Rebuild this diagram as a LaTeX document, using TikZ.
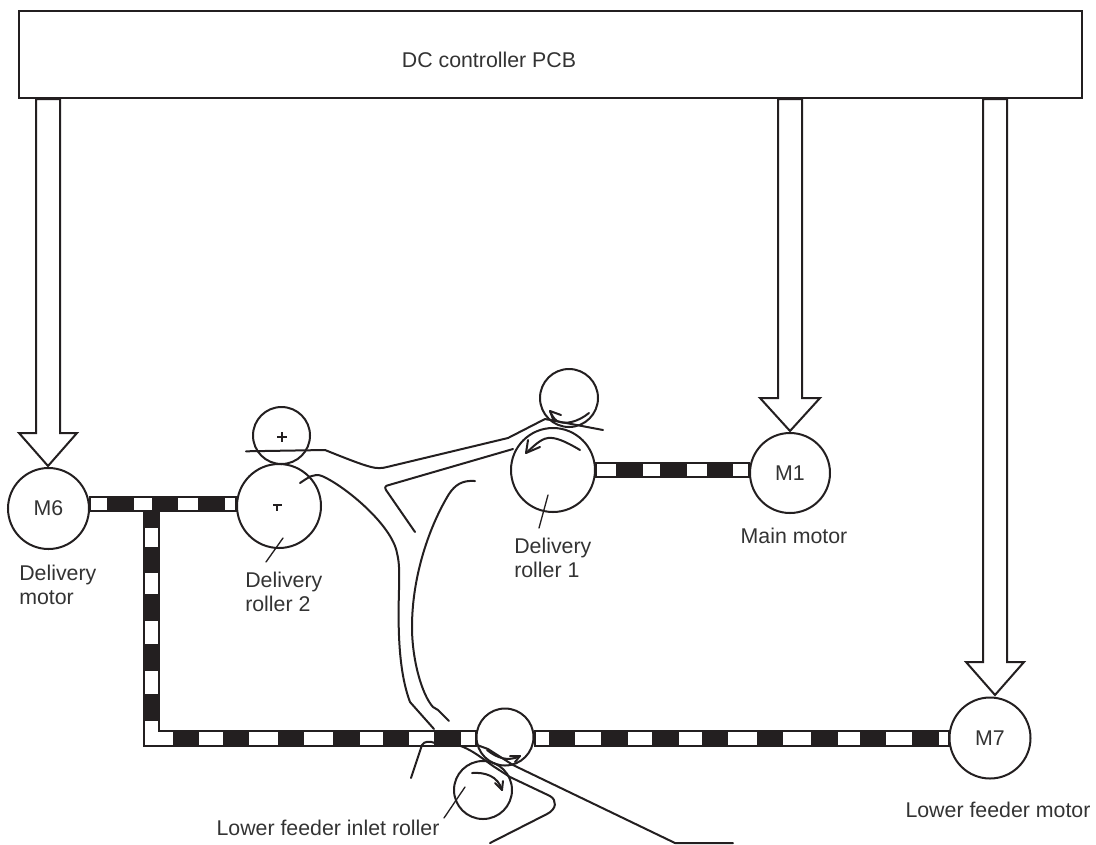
\documentclass[tikz,border=0pt]{standalone}
\usepackage{fontspec}
\setmainfont{Liberation Sans}
\usetikzlibrary{calc}
\definecolor{ink}{HTML}{231F20}
\definecolor{txt}{HTML}{333333}
\tikzset{
  wire/.style={draw=ink,line width=1.5pt,line join=round,line cap=round},
  thin wire/.style={draw=ink,line width=1pt,line cap=round},
  box/.style={draw=ink,line width=1.5pt,inner sep=0pt},
  roller/.style={circle,draw=ink,line width=1.5pt,inner sep=0pt,minimum size=#1*.75pt,text=txt,font=\fontsize{16}{18}\selectfont},
  label/.style={text=txt,font=\fontsize{16}{18}\selectfont,align=left,inner sep=0pt},
  hollow/.style={draw=ink,line width=1.5pt,fill=white,line join=miter},
  beltline/.style={draw=ink,line width=1.5pt,fill=white}
}
\newcommand\hollowarrow[2]{\draw[hollow] (#1) -- ++(-#2,-33) -- ++(#2-12,0) -- ({$(#1)+(-12,0)$} |- frame.south) -- ({$(#1)+(12,0)$} |- frame.south) -- ($(#1)+(12,-33)$) -- ++(#2-12,0) -- cycle;}
\newcommand\blacks[3]{\foreach \a/\b in {#3} \fill[ink] (\a,#1) rectangle (\b,#2);}
\begin{document}
\begin{tikzpicture}[x=.75pt,y=-.75pt]
\useasboundingbox (0,0) rectangle (1096,844);
\node[box,minimum width=1063*.75pt,minimum height=87*.75pt,anchor=north west] (frame) at (18,10) {};
\node[label] (title) at (489,60) {DC controller PCB};
% rollers and motors
\node[roller=81] (M6) at (48.5,508.5) {M6};
\node[roller=80] (M1) at (790,473) {M1};
\node[roller=81] (M7) at (990,738) {M7};
\node[roller=84] (dr2) at (279,506) {};
\node[roller=57] (dr2u) at (281.5,435.5) {};
\node[roller=84] (dr1) at (553,470) {};
\node[roller=58] (dr1u) at (569,398) {};
\node[roller=57] (fi) at (505,737) {};
\node[roller=58] (fil) at (483,790) {};
% hollow arrows
\coordinate (t6) at (48,466);
\coordinate (t1) at (790,431);
\coordinate (t7) at (995,695);
\hollowarrow{t6}{29}
\hollowarrow{t1}{30}
\hollowarrow{t7}{29}
% belts
\draw[beltline] (M6.east |- 0,497) rectangle (dr2.west |- 0,511);
\blacks{497}{511}{107/134,152/178,198/225}
\draw[beltline] (dr1.east |- 0,463) rectangle (M1.west |- 0,477);
\blacks{463}{477}{616/643,660/687,707/733}
\draw[beltline] (fi.east |- 0,731) rectangle (M7.west |- 0,746);
\blacks{731}{746}{548.5/574.7,601/627.7,652/679,702/728,756.5/783,811/837.5,860/886,912/938.6}
\draw[beltline] (144,511) -- (144,745.5) -- (fi.west |- 0,745.5) -- (fi.west |- 0,730.5) -- (159,730.5) -- (159,511) -- cycle;
\blacks{730.5}{745.5}{173/199,223/249,278/304,333/360,383/409,434/461}
\foreach \a/\b in {512/528,547/573,594/621,644/671,694/721} \fill[ink] (144,\a) rectangle (159,\b);
% plus marks
\draw[ink,line width=1.2pt] (277,437) -- (287,437) (282,432) -- (282,442);
\draw[ink,line width=1.2pt] (273,505) -- (282,505) (277,504) -- (277,511);
% paper path
\draw[wire] (246,451.3) -- (325,450) .. controls (345,458) and (360,464) .. (370,466.7) .. controls (376,468.5) and (382,468.5) .. (387,467) -- (508,438) -- (545,419) -- (603,430);
\draw[wire] (415,532) -- (386,490) .. controls (384,487) and (386,485.5) .. (389,485) -- (513,449);
\draw[wire] (300,483) .. controls (309,477) and (314,473) .. (322,476) .. controls (345,486) and (392,525) .. (397,553) .. controls (400,565) and (399,575) .. (399,590) .. controls (398,625) and (398,670) .. (410,702) -- (434,729);
\draw[wire] (475,481) .. controls (462,480) and (455,485) .. (449,494) .. controls (430,525) and (412,575) .. (412,627) .. controls (412,660) and (422,695) .. (433,707) -- (438,710) -- (449,721);
\draw[wire] (411,778) -- (422,745) .. controls (424,741) and (430,741) .. (435,743);
\draw[wire] (458,745) .. controls (470,749) and (478,755) .. (493,766) -- (510,777) -- (550,796) .. controls (557,800) and (557,809) .. (547,814) -- (490,843);
\draw[wire] (477,745) -- (488,749) -- (513,765) -- (675,843) -- (733,843);
% rotation arrows
\draw[wire] (580,450) .. controls (565,441) and (555,437) .. (548,438) .. controls (540,439) and (533,447) .. (526,453);
\draw[wire] (528,440) -- (526,453) -- (540,447);
\draw[wire] (589,413) .. controls (578,422) and (565,425) .. (557,421) .. controls (553,418) and (552,415) .. (550,411);
\draw[wire] (561,415) -- (550,411) -- (554,422);
\draw[wire] (487,750) .. controls (497,758) and (508,762) .. (520,756);
\draw[wire] (510,756) -- (520,756) -- (515,762);
\draw[wire] (472,773) .. controls (485,772) and (498,776) .. (502,790);
\draw[wire] (495,783) -- (502,790) -- (503,781);
% labels and leaders
\node[label,anchor=west] (l6) at (19,585) {Delivery\\motor};
\node[label,anchor=west] (ldr2) at (245,592) {Delivery\\roller 2};
\node[label,anchor=west] (ldr1) at (514,558) {Delivery\\roller 1};
\node[label] (lm1) at (794,536) {Main motor};
\node[label] (lm7) at (998,810) {Lower feeder motor};
\node[label] (lfi) at (328,828) {Lower feeder inlet roller};
\coordinate (a2) at (283,538);
\coordinate (b2) at (266,562);
\coordinate (a1) at (548,495);
\coordinate (b1) at (539,528);
\coordinate (a3) at (465,787);
\coordinate (b3) at (444,818);
\draw[thin wire] (a2) -- (b2);
\draw[thin wire] (a1) -- (b1);
\draw[thin wire] (a3) -- (b3);
\end{tikzpicture}
\end{document}
